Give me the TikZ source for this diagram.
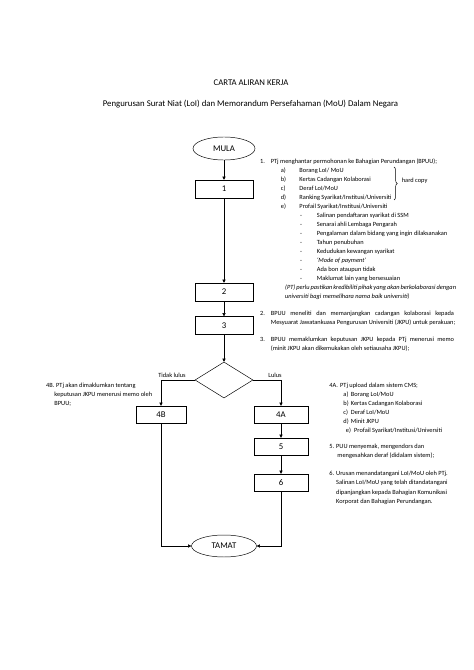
\documentclass[tikz,border=0pt]{standalone}
\usepackage{fontspec}
\setmainfont{Carlito}
\usetikzlibrary{shapes.geometric,arrows.meta,decorations.pathreplacing}
\begin{document}
\begin{tikzpicture}[x=1.2557pt,y=-1.2557pt,
  box/.style={draw, line width=0.6pt, minimum width=72.8pt, minimum height=22.6pt, inner sep=0pt, font=\fontsize{11}{13}\selectfont},
  sbox/.style={box, minimum width=67.8pt, minimum height=21.3pt},
  bbox/.style={box, minimum width=62.8pt, minimum height=21.3pt},
  oval/.style={draw, ellipse, line width=0.6pt, inner sep=0pt, font=\fontsize{11}{13}\selectfont},
  dia/.style={draw, diamond, line width=0.6pt, inner sep=0pt, minimum width=72.8pt, minimum height=45.2pt},
  arr/.style={line width=0.6pt, -{Triangle[length=4pt,width=4pt]}},
  ln/.style={line width=0.6pt},
  tx/.style={anchor=base west, inner sep=0pt, font=\fontsize{8}{9.6}\selectfont},
  lbl/.style={anchor=base, inner sep=0pt, font=\fontsize{8}{9.6}\selectfont},
  ttl/.style={anchor=base, inner sep=0pt, font=\fontsize{11}{13}\selectfont}
]
\useasboundingbox (0,0) rectangle (474,670);
\fill[white] (0,0) rectangle (474,670);

% titles
\node[ttl] (title) at (251,85.7) {CARTA ALIRAN KERJA};
\node[ttl] (subtitle) at (250.5,106) {Pengurusan Surat Niat (LoI) dan Memorandum Persefahaman (MoU) Dalam Negara};

% flow shapes
\node[oval, minimum width=77.9pt, minimum height=28.9pt] (mula) at (224,148.5) {MULA};
\node[box] (b1) at (224,189) {1};
\node[box] (b2) at (224,292) {2};
\node[box] (b3) at (224,325.5) {3};
\node[dia] (d) at (224,380) {};
\node[bbox] (b4b) at (161,414.5) {4B};
\node[sbox] (b4a) at (281,414.5) {4A};
\node[sbox] (b5) at (281,446.5) {5};
\node[sbox] (b6) at (281,482.5) {6};
\node[oval, minimum width=81.6pt, minimum height=27.6pt] (tamat) at (224,546) {TAMAT};

% connectors
\draw[arr] (mula) -- (b1);
\draw[arr] (b1) -- (b2);
\draw[arr] (b2) -- (b3);
\draw[arr] (b3) -- (d);
\draw[arr] (d.west) -| (b4b);
\draw[arr] (d.east) -| (b4a);
\draw[arr] (b4a) -- (b5);
\draw[arr] (b5) -- (b6);
\draw[arr] (b4b) |- (tamat);
\draw[arr] (b6) |- (tamat);

\node[lbl] (ltl) at (172,377.5) {Tidak lulus};
\node[lbl] (ll) at (275,377.5) {Lulus};

% step 1 text
\node[tx] (n1) at (260,163.5) {1.};
\node[tx] (t1) at (270.7,163.5) {PTj menghantar permohonan ke Bahagian Perundangan (BPUU);};
\node[tx] (na) at (280.7,172.6) {a)};
\node[tx] (ta) at (299.3,172.6) {Borang LoI/ MoU};
\node[tx] (nb) at (280.7,181.7) {b)};
\node[tx] (tb) at (299.3,181.7) {Kertas Cadangan Kolaborasi};
\node[tx] (nc) at (280.7,190.8) {c)};
\node[tx] (tc) at (299.3,190.8) {Deraf LoI/MoU};
\node[tx] (nd) at (280.7,199.9) {d)};
\node[tx] (td) at (299.3,199.9) {Ranking Syarikat/Institusi/Universiti};
\node[tx] (ne) at (280.7,208.5) {e)};
\node[tx] (te) at (299.3,208.5) {Profail Syarikat/Institusi/Universiti};
\draw[ln, decorate, decoration={brace, amplitude=4pt}] (394,167) -- (394,200);
\node[tx] (hc) at (401.7,182.5) {hard copy};

\node[tx] (s1d) at (300,217) {-};
\node[tx] (s1) at (316.7,217) {Salinan pendaftaran syarikat di SSM};
\node[tx] (s2d) at (300,226.1) {-};
\node[tx] (s2) at (316.7,226.1) {Senarai ahli Lembaga Pengarah};
\node[tx] (s3d) at (300,235.2) {-};
\node[tx] (s3) at (316.7,235.2) {Pengalaman dalam bidang yang ingin dilaksanakan};
\node[tx] (s4d) at (300,244.3) {-};
\node[tx] (s4) at (316.7,244.3) {Tahun penubuhan};
\node[tx] (s5d) at (300,253.4) {-};
\node[tx] (s5) at (316.7,253.4) {Kedudukan kewangan syarikat};
\node[tx] (s6d) at (300,262.5) {-};
\node[tx] (s6) at (316.7,262.5) {\itshape `Mode of payment'};
\node[tx] (s7d) at (300,271.6) {-};
\node[tx] (s7) at (316.7,271.6) {Ada bon ataupun tidak};
\node[tx] (s8d) at (300,280.7) {-};
\node[tx] (s8) at (316.7,280.7) {Maklumat lain yang bersesuaian};
\node[tx] (pt1) at (285,289.3) {\itshape\makebox[212.2pt][s]{(PT) perlu pastikan kredibiliti pihak yang akan berkolaborasi dengan}};
\node[tx] (pt2) at (285,298.4) {\itshape universiti bagi memelihara nama baik universiti)};

% step 2
\node[tx] (n2) at (260,315.3) {2.};
\node[tx] (t2a) at (270.7,315.3) {\makebox[230pt][s]{BPUU meneliti dan memanjangkan cadangan kolaborasi kepada}};
\node[tx] (t2b) at (270.7,324.4) {Mesyuarat Jawatankuasa Pengurusan Universiti (JKPU) untuk perakuan;};

% step 3
\node[tx] (n3) at (260,341.5) {3.};
\node[tx] (t3a) at (270.7,341.5) {\makebox[230pt][s]{BPUU memaklumkan keputusan JKPU kepada PTj menerusi memo}};
\node[tx] (t3b) at (270.7,350.8) {(minit JKPU akan dikemukakan oleh setiausaha JKPU);};

% 4B
\node[tx] (n4b) at (46,387) {4B.};
\node[tx] (t4b1) at (56,387) {PTj akan dimaklumkan tentang};
\node[tx] (t4b2) at (54.3,396) {keputusan JKPU menerusi memo oleh};
\node[tx] (t4b3) at (54.3,405) {BPUU;};

% 4A
\node[tx] (n4a) at (329.3,387) {4A.};
\node[tx] (t4a) at (340,387) {PTj upload dalam sistem CMS;};
\node[tx] (ma) at (343.3,396) {a)};
\node[tx] (ua) at (350.7,396) {Borang LoI/MoU};
\node[tx] (mb) at (343.3,405.2) {b)};
\node[tx] (ub) at (350.7,405.2) {Kertas Cadangan Kolaborasi};
\node[tx] (mc) at (343.3,414.4) {c)};
\node[tx] (uc) at (350.7,414.4) {Deraf LoI/MoU};
\node[tx] (md) at (343.3,423.6) {d)};
\node[tx] (ud) at (350.7,423.6) {Minit JKPU};
\node[tx] (me) at (345.7,432.7) {e)};
\node[tx] (ue) at (354,432.7) {Profail Syarikat/Institusi/Universiti};

% 5
\node[tx] (n5) at (329.3,448) {5.};
\node[tx] (t5a) at (336,448) {PUU menyemak, mengendors dan};
\node[tx] (t5b) at (337.3,457) {mengesahkan deraf (didalam sistem);};

% 6
\node[tx] (n6) at (329.3,475.3) {6.};
\node[tx] (t6a) at (336,475.3) {Urusan menandatangani LoI/MoU oleh PTj.};
\node[tx] (t6b) at (336,484.6) {Salinan LoI/MoU yang telah ditandatangani};
\node[tx] (t6c) at (336,494) {dipanjangkan kepada Bahagian Komunikasi};
\node[tx] (t6d) at (336,503.3) {Korporat dan Bahagian Perundangan.};
\end{tikzpicture}
\end{document}
